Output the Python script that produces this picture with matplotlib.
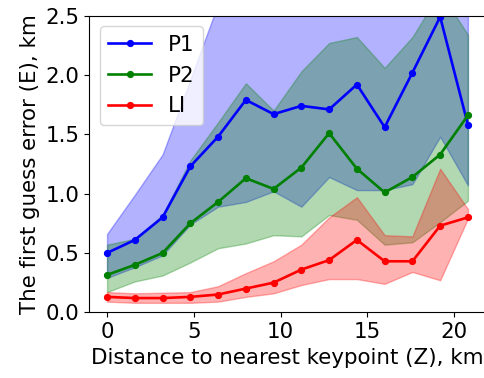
import matplotlib
matplotlib.use("Agg")
import matplotlib.pyplot as plt

# Distance to nearest keypoint, km
distance = [0.0, 1.6, 3.2, 4.8, 6.4, 8.0, 9.6, 11.2, 12.8, 14.4, 16.0, 17.6, 19.2, 20.8]

# P1: mean error and spread band
p1 = [0.50, 0.61, 0.80, 1.23, 1.48, 1.79, 1.67, 1.74, 1.71, 1.92, 1.56, 2.02, 2.49, 1.58]
p1_lo = [0.29, 0.38, 0.48, 0.74, 0.89, 0.93, 1.02, 0.89, 1.14, 1.03, 1.03, 1.08, 1.48, 1.07]
p1_hi = [0.66, 0.99, 1.33, 1.96, 2.60, 2.95, 2.85, 2.90, 3.00, 3.05, 2.90, 3.10, 3.40, 2.95]

# P2: mean error and spread band
p2 = [0.315, 0.40, 0.50, 0.75, 0.93, 1.13, 1.04, 1.22, 1.51, 1.21, 1.01, 1.14, 1.33, 1.66]
p2_lo = [0.17, 0.26, 0.31, 0.42, 0.54, 0.58, 0.65, 0.64, 0.82, 0.78, 0.57, 0.59, 0.76, 0.94]
p2_hi = [0.57, 0.62, 0.82, 1.28, 1.60, 1.93, 1.70, 2.03, 2.27, 2.32, 2.06, 2.32, 2.70, 2.34]

# LI: mean error and spread band
li = [0.13, 0.12, 0.12, 0.13, 0.15, 0.20, 0.25, 0.36, 0.44, 0.61, 0.43, 0.43, 0.73, 0.80]
li_lo = [0.09, 0.08, 0.08, 0.08, 0.09, 0.13, 0.16, 0.23, 0.28, 0.28, 0.24, 0.34, 0.27, 0.79]
li_hi = [0.17, 0.16, 0.165, 0.17, 0.22, 0.33, 0.43, 0.57, 0.80, 0.97, 0.65, 0.64, 1.21, 0.87]

plt.rcParams['font.family'] = ['DejaVu Sans']
plt.rcParams['font.size'] = 15.4

fig = plt.figure(figsize=(4.85, 3.78), dpi=100)
ax = fig.add_axes([0.1835, 0.1738, 0.8185, 0.7847])

series = [
    ("P1", p1, p1_lo, p1_hi, "b"),
    ("P2", p2, p2_lo, p2_hi, "g"),
    ("LI", li, li_lo, li_hi, "r"),
]
for name, mean, lo, hi, col in series:
    ax.plot(distance, mean, "-o", color=col, lw=1.9, ms=4.2, label=name)
    ax.fill_between(distance, lo, hi, color=col, alpha=0.3)

ax.set_xlim(-1.04, 21.84)
ax.set_ylim(0, 2.5)
ax.set_xticks([0, 5, 10, 15, 20])
ax.set_yticks([0.0, 0.5, 1.0, 1.5, 2.0, 2.5])
ax.spines['right'].set_visible(False)
ax.set_xlabel("Distance to nearest keypoint (Z), km")
ax.set_ylabel("The first guess error (E), km")
ax.legend(loc="upper left")

fig.savefig("out.png", dpi=100)
